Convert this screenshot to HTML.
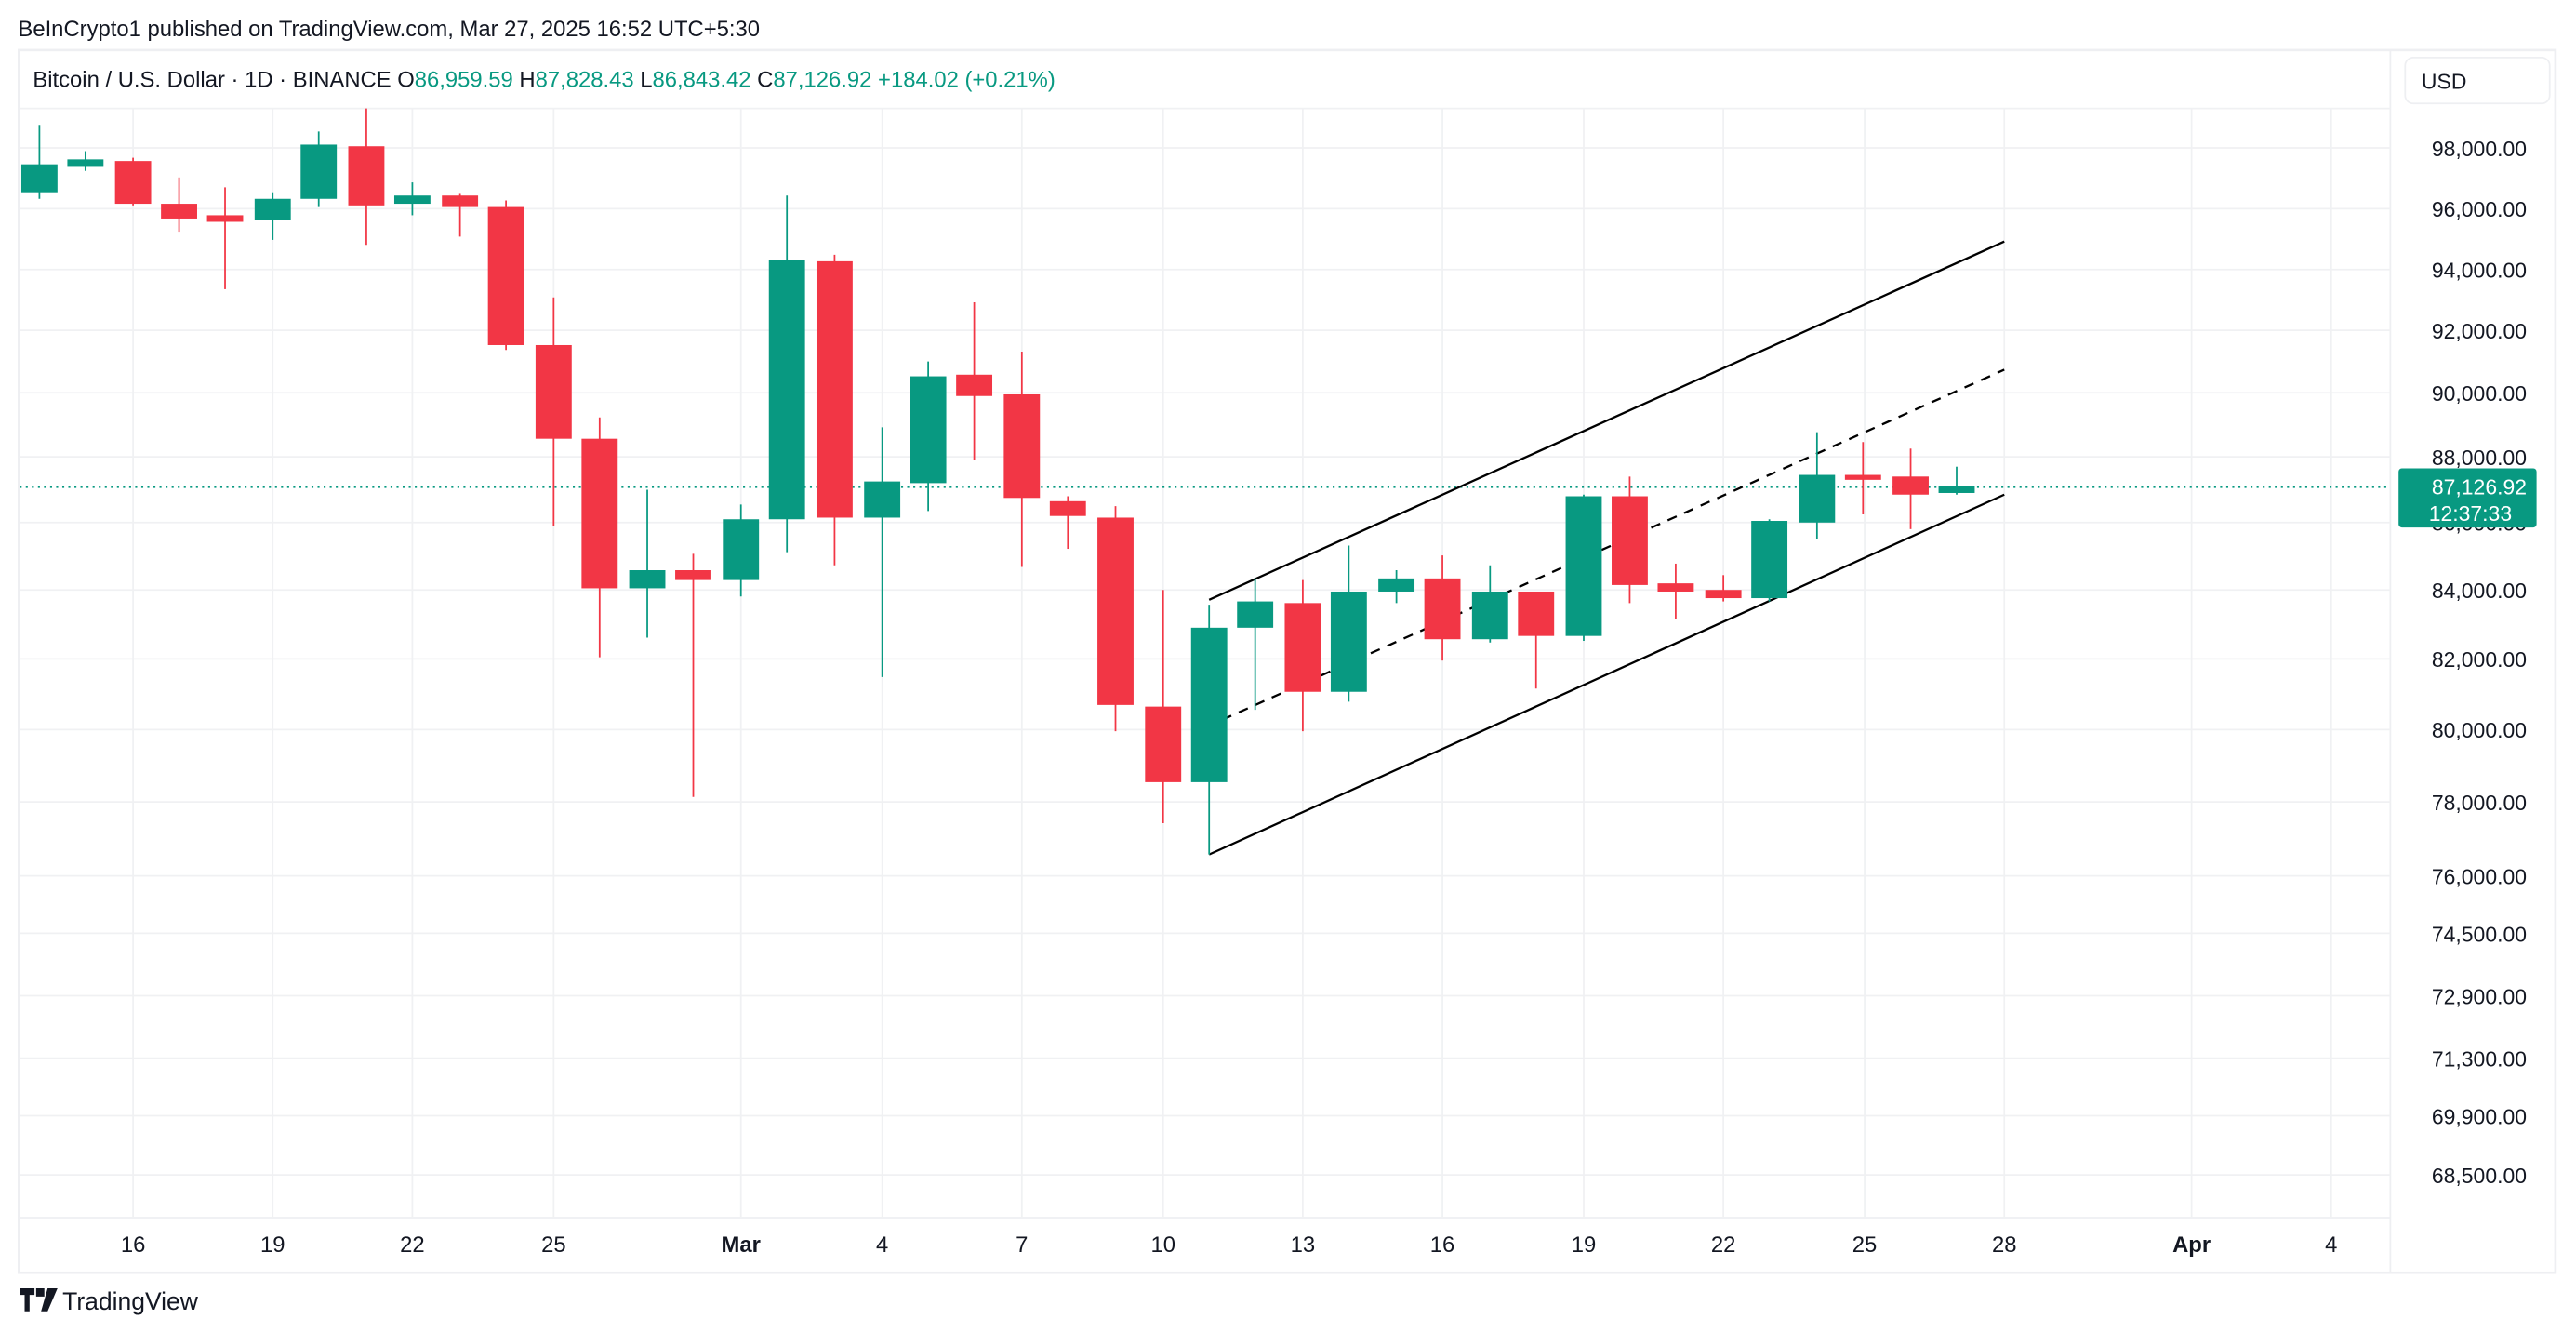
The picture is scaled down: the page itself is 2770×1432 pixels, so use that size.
<!DOCTYPE html>
<html><head><meta charset="utf-8"><style>
html,body{margin:0;padding:0;background:#fff;width:2770px;height:1432px;overflow:hidden}
text{font-family:"Liberation Sans",sans-serif}
</style></head><body>
<svg width="2770" height="1432" viewBox="0 0 1568 810.6" xmlns="http://www.w3.org/2000/svg" xml:space="preserve">
<rect width="1568" height="810.6" fill="#fff"/>
<text x="11" y="22" font-size="13.5" fill="#131722">BeInCrypto1 published on TradingView.com, Mar 27, 2025 16:52 UTC+5:30</text>
<rect x="11.5" y="30.5" width="1544" height="744" fill="none" stroke="#eeeff2" stroke-width="1.5"/>
<line x1="11.5" y1="741" x2="1455" y2="741" stroke="#eeeff2"/>
<line x1="1455" y1="30" x2="1455" y2="775" stroke="#eeeff2"/>
<g stroke="#f0f1f3" stroke-width="1">
<line x1="12" x2="1455" y1="90" y2="90"/><line x1="12" x2="1455" y1="127" y2="127"/><line x1="12" x2="1455" y1="164" y2="164"/><line x1="12" x2="1455" y1="201" y2="201"/><line x1="12" x2="1455" y1="239" y2="239"/><line x1="12" x2="1455" y1="278" y2="278"/><line x1="12" x2="1455" y1="318" y2="318"/><line x1="12" x2="1455" y1="359" y2="359"/><line x1="12" x2="1455" y1="401" y2="401"/><line x1="12" x2="1455" y1="444" y2="444"/><line x1="12" x2="1455" y1="488" y2="488"/><line x1="12" x2="1455" y1="533" y2="533"/><line x1="12" x2="1455" y1="568" y2="568"/><line x1="12" x2="1455" y1="606" y2="606"/><line x1="12" x2="1455" y1="644" y2="644"/><line x1="12" x2="1455" y1="679" y2="679"/><line x1="12" x2="1455" y1="715" y2="715"/>
<line y1="66" y2="741" x1="81" x2="81"/><line y1="66" y2="741" x1="166" x2="166"/><line y1="66" y2="741" x1="251" x2="251"/><line y1="66" y2="741" x1="337" x2="337"/><line y1="66" y2="741" x1="451" x2="451"/><line y1="66" y2="741" x1="537" x2="537"/><line y1="66" y2="741" x1="622" x2="622"/><line y1="66" y2="741" x1="708" x2="708"/><line y1="66" y2="741" x1="793" x2="793"/><line y1="66" y2="741" x1="878" x2="878"/><line y1="66" y2="741" x1="964" x2="964"/><line y1="66" y2="741" x1="1049" x2="1049"/><line y1="66" y2="741" x1="1135" x2="1135"/><line y1="66" y2="741" x1="1220" x2="1220"/><line y1="66" y2="741" x1="1334" x2="1334"/><line y1="66" y2="741" x1="1419" x2="1419"/>
</g>
<line x1="12" y1="66" x2="1455" y2="66" stroke="#f0f1f3"/>
<text x="20" y="53" font-size="13.5" fill="#131722">Bitcoin / U.S. Dollar · 1D · BINANCE  O<tspan fill="#089981">86,959.59</tspan>  H<tspan fill="#089981">87,828.43</tspan>  L<tspan fill="#089981">86,843.42</tspan>  C<tspan fill="#089981">87,126.92  +184.02 (+0.21%)</tspan></text>
<line x1="12" y1="296.5" x2="1455" y2="296.5" stroke="#089981" stroke-width="1" stroke-dasharray="1.2,2.5"/>
<g stroke="#000" stroke-width="1.3" fill="none">
<line x1="736" y1="365" x2="1220" y2="147"/>
<line x1="736" y1="520" x2="1220" y2="301"/>
<line x1="744" y1="438" x2="1220" y2="225" stroke-dasharray="6,5"/>
</g>
<rect x="1464" y="35" width="88" height="28" rx="5" fill="#fff" stroke="#eeeff2"/>
<text x="1474" y="54" font-size="13" fill="#131722">USD</text>
<g font-size="13" fill="#131722" text-anchor="end">
<text x="1538" y="95">98,000.00</text><text x="1538" y="132">96,000.00</text><text x="1538" y="169">94,000.00</text><text x="1538" y="206">92,000.00</text><text x="1538" y="244">90,000.00</text><text x="1538" y="283">88,000.00</text><text x="1538" y="323">86,000.00</text><text x="1538" y="364">84,000.00</text><text x="1538" y="406">82,000.00</text><text x="1538" y="449">80,000.00</text><text x="1538" y="493">78,000.00</text><text x="1538" y="538">76,000.00</text><text x="1538" y="573">74,500.00</text><text x="1538" y="611">72,900.00</text><text x="1538" y="649">71,300.00</text><text x="1538" y="684">69,900.00</text><text x="1538" y="720">68,500.00</text>
</g>
<rect x="1460" y="285" width="84" height="36" rx="2" fill="#089981"/>
<text x="1538" y="301" font-size="13" fill="#fff" text-anchor="end">87,126.92</text>
<text x="1529" y="317" font-size="13" fill="#fff" text-anchor="end">12:37:33</text>
<g font-size="13.5" fill="#131722" text-anchor="middle">
<text x="81" y="762">16</text><text x="166" y="762">19</text><text x="251" y="762">22</text><text x="337" y="762">25</text><text x="451" y="762" font-weight="bold">Mar</text><text x="537" y="762">4</text><text x="622" y="762">7</text><text x="708" y="762">10</text><text x="793" y="762">13</text><text x="878" y="762">16</text><text x="964" y="762">19</text><text x="1049" y="762">22</text><text x="1135" y="762">25</text><text x="1220" y="762">28</text><text x="1334" y="762" font-weight="bold">Apr</text><text x="1419" y="762">4</text>
</g>
<path d="M12 784h9v4h-3v10h-3v-10h-3z M22 784h5v5h-5z M29 784h6l-6 14h-4z" fill="#131722"/>
<text x="38" y="797" font-size="15" fill="#131722">TradingView</text>
<g>
<g fill="#089981" stroke="#089981"><line x1="24" y1="76" x2="24" y2="121"/><rect x="13" y="100" width="22" height="17" stroke="none"/></g>
<g fill="#089981" stroke="#089981"><line x1="52" y1="92" x2="52" y2="104"/><rect x="41" y="97" width="22" height="4" stroke="none"/></g>
<g fill="#f23645" stroke="#f23645"><line x1="81" y1="96" x2="81" y2="125"/><rect x="70" y="98" width="22" height="26" stroke="none"/></g>
<g fill="#f23645" stroke="#f23645"><line x1="109" y1="108" x2="109" y2="141"/><rect x="98" y="124" width="22" height="9" stroke="none"/></g>
<g fill="#f23645" stroke="#f23645"><line x1="137" y1="114" x2="137" y2="176"/><rect x="126" y="131" width="22" height="4" stroke="none"/></g>
<g fill="#089981" stroke="#089981"><line x1="166" y1="117" x2="166" y2="146"/><rect x="155" y="121" width="22" height="13" stroke="none"/></g>
<g fill="#089981" stroke="#089981"><line x1="194" y1="80" x2="194" y2="126"/><rect x="183" y="88" width="22" height="33" stroke="none"/></g>
<g fill="#f23645" stroke="#f23645"><line x1="223" y1="66" x2="223" y2="149"/><rect x="212" y="89" width="22" height="36" stroke="none"/></g>
<g fill="#089981" stroke="#089981"><line x1="251" y1="111" x2="251" y2="131"/><rect x="240" y="119" width="22" height="5" stroke="none"/></g>
<g fill="#f23645" stroke="#f23645"><line x1="280" y1="118" x2="280" y2="144"/><rect x="269" y="119" width="22" height="7" stroke="none"/></g>
<g fill="#f23645" stroke="#f23645"><line x1="308" y1="122" x2="308" y2="213"/><rect x="297" y="126" width="22" height="84" stroke="none"/></g>
<g fill="#f23645" stroke="#f23645"><line x1="337" y1="181" x2="337" y2="320"/><rect x="326" y="210" width="22" height="57" stroke="none"/></g>
<g fill="#f23645" stroke="#f23645"><line x1="365" y1="254" x2="365" y2="400"/><rect x="354" y="267" width="22" height="91" stroke="none"/></g>
<g fill="#089981" stroke="#089981"><line x1="394" y1="298" x2="394" y2="388"/><rect x="383" y="347" width="22" height="11" stroke="none"/></g>
<g fill="#f23645" stroke="#f23645"><line x1="422" y1="337" x2="422" y2="485"/><rect x="411" y="347" width="22" height="6" stroke="none"/></g>
<g fill="#089981" stroke="#089981"><line x1="451" y1="307" x2="451" y2="363"/><rect x="440" y="316" width="22" height="37" stroke="none"/></g>
<g fill="#089981" stroke="#089981"><line x1="479" y1="119" x2="479" y2="336"/><rect x="468" y="158" width="22" height="158" stroke="none"/></g>
<g fill="#f23645" stroke="#f23645"><line x1="508" y1="155" x2="508" y2="344"/><rect x="497" y="159" width="22" height="156" stroke="none"/></g>
<g fill="#089981" stroke="#089981"><line x1="537" y1="260" x2="537" y2="412"/><rect x="526" y="293" width="22" height="22" stroke="none"/></g>
<g fill="#089981" stroke="#089981"><line x1="565" y1="220" x2="565" y2="311"/><rect x="554" y="229" width="22" height="65" stroke="none"/></g>
<g fill="#f23645" stroke="#f23645"><line x1="593" y1="184" x2="593" y2="280"/><rect x="582" y="228" width="22" height="13" stroke="none"/></g>
<g fill="#f23645" stroke="#f23645"><line x1="622" y1="214" x2="622" y2="345"/><rect x="611" y="240" width="22" height="63" stroke="none"/></g>
<g fill="#f23645" stroke="#f23645"><line x1="650" y1="302" x2="650" y2="334"/><rect x="639" y="305" width="22" height="9" stroke="none"/></g>
<g fill="#f23645" stroke="#f23645"><line x1="679" y1="308" x2="679" y2="445"/><rect x="668" y="315" width="22" height="114" stroke="none"/></g>
<g fill="#f23645" stroke="#f23645"><line x1="708" y1="359" x2="708" y2="501"/><rect x="697" y="430" width="22" height="46" stroke="none"/></g>
<g fill="#089981" stroke="#089981"><line x1="736" y1="368" x2="736" y2="520"/><rect x="725" y="382" width="22" height="94" stroke="none"/></g>
<g fill="#089981" stroke="#089981"><line x1="764" y1="352" x2="764" y2="432"/><rect x="753" y="366" width="22" height="16" stroke="none"/></g>
<g fill="#f23645" stroke="#f23645"><line x1="793" y1="353" x2="793" y2="445"/><rect x="782" y="367" width="22" height="54" stroke="none"/></g>
<g fill="#089981" stroke="#089981"><line x1="821" y1="332" x2="821" y2="427"/><rect x="810" y="360" width="22" height="61" stroke="none"/></g>
<g fill="#089981" stroke="#089981"><line x1="850" y1="347" x2="850" y2="367"/><rect x="839" y="352" width="22" height="8" stroke="none"/></g>
<g fill="#f23645" stroke="#f23645"><line x1="878" y1="338" x2="878" y2="402"/><rect x="867" y="352" width="22" height="37" stroke="none"/></g>
<g fill="#089981" stroke="#089981"><line x1="907" y1="344" x2="907" y2="391"/><rect x="896" y="360" width="22" height="29" stroke="none"/></g>
<g fill="#f23645" stroke="#f23645"><line x1="935" y1="360" x2="935" y2="419"/><rect x="924" y="360" width="22" height="27" stroke="none"/></g>
<g fill="#089981" stroke="#089981"><line x1="964" y1="301" x2="964" y2="390"/><rect x="953" y="302" width="22" height="85" stroke="none"/></g>
<g fill="#f23645" stroke="#f23645"><line x1="992" y1="290" x2="992" y2="367"/><rect x="981" y="302" width="22" height="54" stroke="none"/></g>
<g fill="#f23645" stroke="#f23645"><line x1="1020" y1="343" x2="1020" y2="377"/><rect x="1009" y="355" width="22" height="5" stroke="none"/></g>
<g fill="#f23645" stroke="#f23645"><line x1="1049" y1="350" x2="1049" y2="366"/><rect x="1038" y="359" width="22" height="5" stroke="none"/></g>
<g fill="#089981" stroke="#089981"><line x1="1077" y1="316" x2="1077" y2="366"/><rect x="1066" y="317" width="22" height="47" stroke="none"/></g>
<g fill="#089981" stroke="#089981"><line x1="1106" y1="263" x2="1106" y2="328"/><rect x="1095" y="289" width="22" height="29" stroke="none"/></g>
<g fill="#f23645" stroke="#f23645"><line x1="1134" y1="269" x2="1134" y2="313"/><rect x="1123" y="289" width="22" height="3" stroke="none"/></g>
<g fill="#f23645" stroke="#f23645"><line x1="1163" y1="273" x2="1163" y2="322"/><rect x="1152" y="290" width="22" height="11" stroke="none"/></g>
<g fill="#089981" stroke="#089981"><line x1="1191" y1="284" x2="1191" y2="301"/><rect x="1180" y="296" width="22" height="4" stroke="none"/></g>
</g>
</svg>
</body></html>
